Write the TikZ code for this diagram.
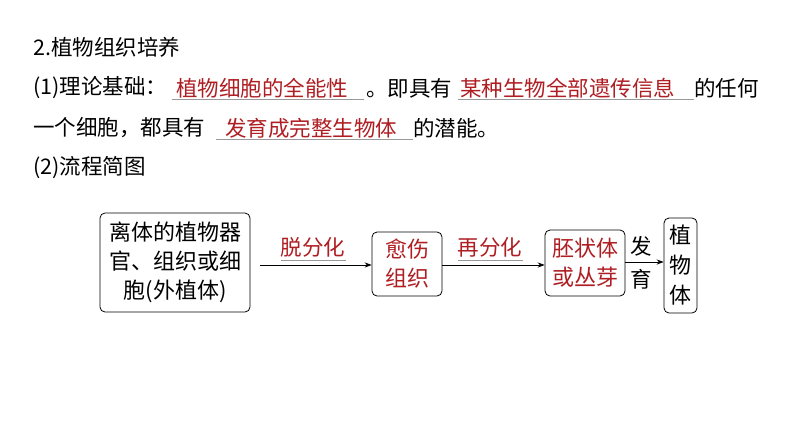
\documentclass[tikz,border=0pt]{standalone}
\usepackage{fontspec}
\setmainfont{Noto Sans CJK SC}
\usetikzlibrary{arrows.meta}
\definecolor{dred}{RGB}{175,30,35}
\begin{document}
\begin{tikzpicture}[x=1pt,y=-1pt,
  t/.style={anchor=west,inner sep=0pt,font=\fontsize{21.5}{26}\selectfont},
  r/.style={t,text=dred},
  ul/.style={draw=gray!80,line width=1pt},
  bx/.style={draw,rounded corners=5pt,line width=0.8pt,align=center,inner sep=1pt,font=\fontsize{22}{29}\selectfont},
  ar/.style={-{Stealth[length=7pt]},line width=0.8pt}]
\fill[white] (0,0) rectangle (794,447);
\useasboundingbox (0,0) rectangle (794,447);
\node[t] (l1) at (33,47) {2.植物组织培养};
\node[t] (l2a) at (33,88) {(1)理论基础：};
\node[r] (l2b) at (176,88) {植物细胞的全能性};
\node[t] (l2c) at (366,88) {。即具有};
\node[r] (l2d) at (460,88) {某种生物全部遗传信息};
\node[t] (l2e) at (694,88) {的任何};
\draw[ul] (172,99) -- (364,99);
\draw[ul] (458,99) -- (694,99);
\node[t] (l3a) at (33,128) {一个细胞，都具有};
\node[r] (l3b) at (225,128) {发育成完整生物体};
\node[t] (l3c) at (413,128) {的潜能。};
\draw[ul] (216,139) -- (413,139);
\node[t] (l4) at (33,168) {(2)流程简图};
\node[bx,minimum width=150pt,minimum height=99pt] (b1) at (175,262.5) {离体的植物器\\官、组织或细\\胞(外植体)};
\node[bx,text=dred,minimum width=70pt,minimum height=64pt] (b2) at (407,264) {愈伤\\组织};
\node[bx,text=dred,minimum width=80pt,minimum height=66pt] (b3) at (585,263) {胚状体\\或丛芽};
\node[bx,minimum width=33pt,minimum height=95pt,inner sep=0pt,font=\fontsize{22}{30}\selectfont] (b4) at (680.5,265.5) {植\\物\\体};
\coordinate (s1) at (260,265);
\draw[ar] (s1) -- (b2.west|-s1);
\draw[ar] (b2.east|-s1) -- (b3.west|-s1);
\coordinate (s3) at (625,262);
\draw[ar] (b3.east|-s3) -- (b4.west|-s3);
\node[r,anchor=center] (d1) at (313,247) {脱分化};
\draw[ul] (d1.south west)++(0,3) -- ++(65,0);
\node[r,anchor=center] (d2) at (490,247) {再分化};
\draw[ul] (d2.south west)++(0,3) -- ++(65,0);
\node[t,anchor=center] (f1) at (641,246) {发};
\node[t,anchor=center] (f2) at (641,279) {育};
\end{tikzpicture}
\end{document}
